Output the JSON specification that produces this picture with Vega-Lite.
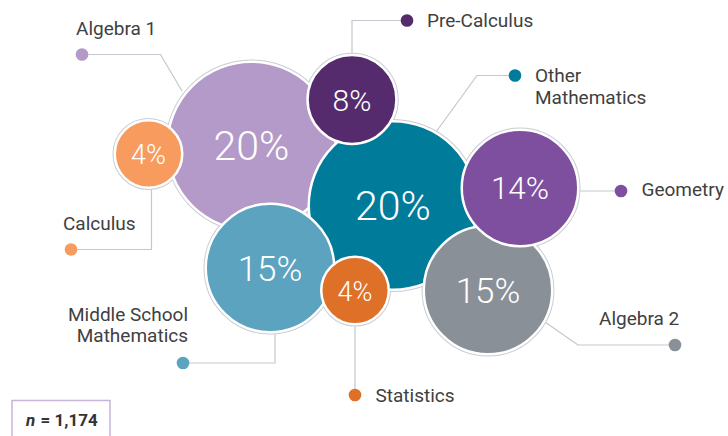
{
  "$schema": "https://vega.github.io/schema/vega-lite/v6.json",
  "width": 728,
  "height": 436,
  "padding": 0,
  "autosize": {"type": "none"},
  "background": "white",
  "config": {"view": {"stroke": null}},
  "datasets": {
    "bubbles": [
      {"subject": "Algebra 1", "pct": 20, "x": 251.5, "y": 146},
      {"subject": "Other Mathematics", "pct": 20, "x": 393, "y": 205.5},
      {"subject": "Pre-Calculus", "pct": 8, "x": 352, "y": 99.5},
      {"subject": "Calculus", "pct": 4, "x": 148.5, "y": 154},
      {"subject": "Middle School Mathematics", "pct": 15, "x": 270, "y": 268},
      {"subject": "Statistics", "pct": 4, "x": 355, "y": 290.5},
      {"subject": "Algebra 2", "pct": 15, "x": 488, "y": 290},
      {"subject": "Geometry", "pct": 14, "x": 520, "y": 188}
    ],
    "leaders": [
      {"subject": "Algebra 1", "seq": 1, "x": 82, "y": 54.5, "end": true},
      {"subject": "Algebra 1", "seq": 2, "x": 160.5, "y": 54.5, "end": false},
      {"subject": "Algebra 1", "seq": 3, "x": 182, "y": 91, "end": false},
      {"subject": "Pre-Calculus", "seq": 1, "x": 352, "y": 56, "end": false},
      {"subject": "Pre-Calculus", "seq": 2, "x": 352, "y": 20.5, "end": false},
      {"subject": "Pre-Calculus", "seq": 3, "x": 407, "y": 20.5, "end": true},
      {"subject": "Other Mathematics", "seq": 1, "x": 436, "y": 132, "end": false},
      {"subject": "Other Mathematics", "seq": 2, "x": 477, "y": 75.5, "end": false},
      {"subject": "Other Mathematics", "seq": 3, "x": 515, "y": 75.5, "end": true},
      {"subject": "Geometry", "seq": 1, "x": 576, "y": 191, "end": false},
      {"subject": "Geometry", "seq": 2, "x": 621, "y": 191, "end": true},
      {"subject": "Calculus", "seq": 1, "x": 151.5, "y": 186, "end": false},
      {"subject": "Calculus", "seq": 2, "x": 151.5, "y": 249.5, "end": false},
      {"subject": "Calculus", "seq": 3, "x": 71, "y": 249.5, "end": true},
      {"subject": "Middle School Mathematics", "seq": 1, "x": 275, "y": 330, "end": false},
      {"subject": "Middle School Mathematics", "seq": 2, "x": 275, "y": 363, "end": false},
      {"subject": "Middle School Mathematics", "seq": 3, "x": 183, "y": 363, "end": true},
      {"subject": "Statistics", "seq": 1, "x": 355, "y": 322, "end": false},
      {"subject": "Statistics", "seq": 2, "x": 355, "y": 395, "end": true},
      {"subject": "Algebra 2", "seq": 1, "x": 542, "y": 320, "end": false},
      {"subject": "Algebra 2", "seq": 2, "x": 578, "y": 345, "end": false},
      {"subject": "Algebra 2", "seq": 3, "x": 675, "y": 345, "end": true}
    ],
    "labels": [
      {"subject": "Algebra 1", "label": "Algebra 1", "x": 76, "y": 34.5, "side": "left"},
      {"subject": "Pre-Calculus", "label": "Pre-Calculus", "x": 427, "y": 27, "side": "left"},
      {"subject": "Other Mathematics", "label": "Other\nMathematics", "x": 535, "y": 81.5, "side": "left"},
      {"subject": "Geometry", "label": "Geometry", "x": 641.5, "y": 196, "side": "left"},
      {"subject": "Calculus", "label": "Calculus", "x": 63, "y": 230, "side": "left"},
      {"subject": "Statistics", "label": "Statistics", "x": 375.5, "y": 401.5, "side": "left"},
      {"subject": "Algebra 2", "label": "Algebra 2", "x": 599, "y": 324.5, "side": "left"},
      {"subject": "Middle School Mathematics", "label": "Middle School\nMathematics", "x": 188, "y": 321, "side": "right"}
    ],
    "notebox": [
      {"x": 12, "x2": 110, "y": 400.5, "y2": 445}
    ],
    "notetext": [
      {"t": "n", "x": 26, "y": 425.5, "style": "italic"},
      {"t": "= 1,174", "x": 40.5, "y": 425.5, "style": "normal"}
    ]
  },
  "encoding": {
    "x": {"field": "x", "type": "quantitative", "scale": {"domain": [0, 728], "nice": false, "zero": false}, "axis": null},
    "y": {"field": "y", "type": "quantitative", "scale": {"domain": [0, 436], "nice": false, "zero": false, "reverse": true}, "axis": null}
  },
  "resolve": {"scale": {"size": "independent"}},
  "layer": [
    {
      "data": {"name": "leaders"},
      "mark": {"type": "line", "stroke": "#c3c7ce", "strokeWidth": 1.2},
      "encoding": {
        "detail": {"field": "subject"},
        "order": {"field": "seq", "type": "quantitative"}
      }
    },
    {
      "data": {"name": "leaders"},
      "transform": [{"filter": "datum.end"}],
      "mark": {"type": "point", "shape": "circle", "filled": true, "opacity": 1, "size": 160},
      "encoding": {
        "color": {
          "field": "subject", "type": "nominal", "legend": null,
          "scale": {
            "domain": ["Algebra 1", "Other Mathematics", "Pre-Calculus", "Calculus", "Middle School Mathematics", "Statistics", "Algebra 2", "Geometry"],
            "range": ["#b49ac8", "#007b9a", "#552b6d", "#f79b5f", "#5ba3be", "#df7027", "#8a9097", "#7e4f9e"]
          }
        }
      }
    },
    {
      "data": {"name": "bubbles"},
      "mark": {"type": "point", "shape": "circle", "filled": false, "opacity": 1, "stroke": "#c9cdd4", "strokeWidth": 4.5},
      "encoding": {
        "size": {"field": "pct", "type": "quantitative", "legend": null,
          "scale": {"type": "linear", "domain": [4, 8, 14, 15, 20], "range": [4556, 7903, 13572, 16512, 28392]}}
      }
    },
    {
      "data": {"name": "bubbles"},
      "mark": {"type": "point", "shape": "circle", "filled": true, "opacity": 1, "fillOpacity": 1, "stroke": "white", "strokeWidth": 2.5},
      "encoding": {
        "color": {"field": "subject", "type": "nominal", "legend": null},
        "size": {"field": "pct", "type": "quantitative", "legend": null,
          "scale": {"type": "linear", "domain": [4, 8, 14, 15, 20], "range": [4556, 7903, 13572, 16512, 28392]}}
      }
    },
    {
      "data": {"name": "bubbles"},
      "transform": [{"calculate": "datum.pct + '%'", "as": "pctLabel"}],
      "mark": {"type": "text", "font": "Roboto", "fontWeight": 300, "color": "white", "align": "center", "baseline": "middle", "dy": 2},
      "encoding": {
        "text": {"field": "pctLabel"},
        "size": {"field": "pct", "type": "quantitative", "legend": null,
          "scale": {"type": "linear", "domain": [4, 8, 14, 15, 20], "range": [27, 30, 31.5, 35, 41]}}
      }
    },
    {
      "data": {"name": "labels"},
      "transform": [{"filter": "datum.side === 'left'"}],
      "mark": {"type": "text", "font": "Roboto", "fontSize": 19, "color": "#404040", "align": "left", "baseline": "alphabetic", "lineBreak": "\n", "lineHeight": 22},
      "encoding": {"text": {"field": "label"}}
    },
    {
      "data": {"name": "labels"},
      "transform": [{"filter": "datum.side === 'right'"}],
      "mark": {"type": "text", "font": "Roboto", "fontSize": 19, "color": "#404040", "align": "right", "baseline": "alphabetic", "lineBreak": "\n", "lineHeight": 21},
      "encoding": {"text": {"field": "label"}}
    },
    {
      "data": {"name": "notebox"},
      "mark": {"type": "rect", "fill": null, "fillOpacity": 0, "stroke": "#c6b4d9", "strokeWidth": 1.5},
      "encoding": {
        "x2": {"field": "x2"},
        "y2": {"field": "y2"}
      }
    },
    {
      "data": {"name": "notetext"},
      "transform": [{"filter": "datum.style === 'italic'"}],
      "mark": {"type": "text", "font": "Roboto", "fontSize": 17, "fontWeight": "bold", "fontStyle": "italic", "color": "#333333", "align": "left", "baseline": "alphabetic"},
      "encoding": {"text": {"field": "t"}}
    },
    {
      "data": {"name": "notetext"},
      "transform": [{"filter": "datum.style === 'normal'"}],
      "mark": {"type": "text", "font": "Roboto", "fontSize": 17, "fontWeight": "bold", "color": "#333333", "align": "left", "baseline": "alphabetic"},
      "encoding": {"text": {"field": "t"}}
    }
  ]
}
